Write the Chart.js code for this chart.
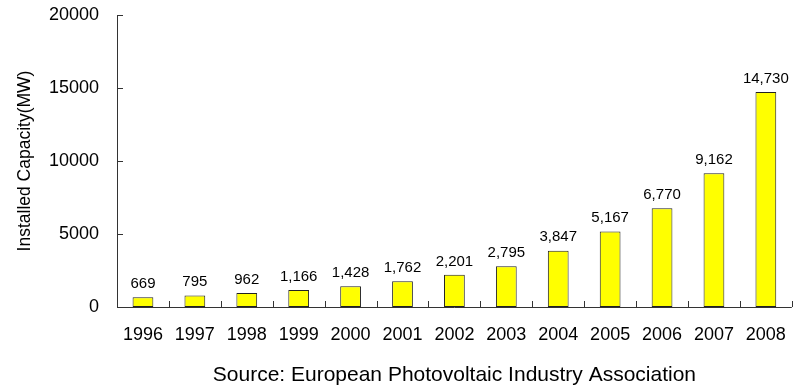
<!DOCTYPE html>
<html>
<head>
<meta charset="utf-8">
<script src="https://cdn.jsdelivr.net/npm/chart.js@4"></script>
<style>
    html, body { margin: 0; padding: 0; background: #fff; }
    #wrap { width: 803px; height: 389px; }
</style>
</head>
<body>
<div id="wrap"><canvas id="pvChart" width="803" height="389"></canvas></div>
<script>
const years = ['1996', '1997', '1998', '1999', '2000', '2001', '2002', '2003', '2004', '2005', '2006', '2007', '2008']
const capacity = [669, 795, 962, 1166, 1428, 1762, 2201, 2795, 3847, 5167, 6770, 9162, 14730]
const yTicks = [0, 5000, 10000, 15000, 20000]

const FONT = 'Arial, "Liberation Sans", sans-serif'
const AXIS_COLOR = '#333'

// value labels above the bars
const barLabels = {
    id: 'barLabels',
    afterDatasetsDraw(chart) {
        const ctx = chart.ctx
        const meta = chart.getDatasetMeta(0)
        ctx.save()
        ctx.font = '15px ' + FONT
        ctx.fillStyle = '#000'
        ctx.textAlign = 'center'
        ctx.textBaseline = 'bottom'
        meta.data.forEach((bar, i) => {
            ctx.fillText(capacity[i].toLocaleString('en-US'), bar.x, bar.y - 6)
        })
        ctx.restore()
    }
}

// axis lines with inward tick marks
const axisLines = {
    id: 'axisLines',
    afterDatasetsDraw(chart) {
        const ctx = chart.ctx
        const { left, right, bottom } = chart.chartArea
        const x = chart.scales.x
        const y = chart.scales.y
        ctx.save()
        ctx.strokeStyle = AXIS_COLOR
        ctx.lineWidth = 1
        ctx.beginPath()
        ctx.moveTo(left + 0.5, y.getPixelForValue(20000))
        ctx.lineTo(left + 0.5, bottom + 0.5)
        ctx.lineTo(right, bottom + 0.5)
        yTicks.forEach(v => {
            const py = Math.round(y.getPixelForValue(v)) + 0.5
            ctx.moveTo(left, py)
            ctx.lineTo(left + 6, py)
        })
        for (let i = 1; i <= years.length; i++) {
            const px = Math.round((x.getPixelForValue(i - 1) + x.getPixelForValue(i)) / 2) + 0.5
            ctx.moveTo(px, bottom)
            ctx.lineTo(px, bottom - 6)
        }
        ctx.stroke()
        ctx.restore()
    }
}

new Chart(document.getElementById('pvChart'), {
    type: 'bar',
    data: {
        labels: years,
        datasets: [{
            data: capacity,
            backgroundColor: '#FFFF00',
            borderColor: '#222',
            borderWidth: 1,
            borderSkipped: false,
            barPercentage: 0.4,
            categoryPercentage: 1
        }]
    },
    options: {
        responsive: false,
        animation: false,
        layout: { autoPadding: false, padding: { top: 15, right: 3, bottom: 0, left: 0 } },
        plugins: {
            legend: { display: false },
            tooltip: { enabled: false }
        },
        scales: {
            x: {
                afterFit(scale) {
                    scale.height = 82
                },
                grid: { display: false, drawTicks: false },
                border: { display: false },
                ticks: {
                    color: '#000',
                    font: { family: FONT, size: 18 },
                    padding: 17,
                    maxRotation: 0
                },
                title: {
                    display: true,
                    text: 'Source: European Photovoltaic Industry Association',
                    color: '#000',
                    font: { family: FONT, size: 21 },
                    padding: { top: 17, bottom: 1 }
                }
            },
            y: {
                min: 0,
                max: 20000,
                afterBuildTicks(scale) {
                    scale.ticks = yTicks.map(v => ({ value: v }))
                },
                afterFit(scale) {
                    // keep the label padding from pushing the plot area down
                    scale.width = 117
                    scale.paddingTop = 0
                    scale.paddingBottom = 0
                },
                grid: { display: false, drawTicks: false },
                border: { display: false },
                ticks: {
                    color: '#000',
                    font: { family: FONT, size: 18 },
                    padding: 18,
                    callback: v => String(v)
                },
                title: {
                    display: true,
                    text: 'Installed Capacity(MW)',
                    color: '#000',
                    font: { family: FONT, size: 17.5 },
                    padding: { top: 15, bottom: 0 }
                }
            }
        }
    },
    plugins: [barLabels, axisLines]
})
</script>
</body>
</html>
